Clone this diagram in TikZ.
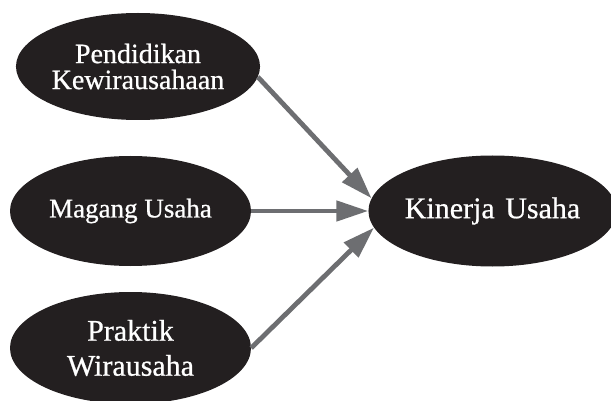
\documentclass[tikz,border=0pt]{standalone}
\usepackage{fontspec}
\setmainfont{Liberation Serif}[FakeBold=0.7]
\usepackage{tikz}
\usetikzlibrary{arrows.meta, shapes.geometric}

\definecolor{ovalblack}{HTML}{231F20}
\definecolor{arrowgray}{HTML}{6D6E71}

\tikzset{
  oval/.style={ellipse, fill=ovalblack, text=white, inner sep=0pt, align=center},
  link/.style={draw=arrowgray, line width=4.8pt, -{Triangle[length=32pt, width=20pt]}}
}

\begin{document}
\begin{tikzpicture}[x=1pt, y=-1pt]
  \useasboundingbox (0,0) rectangle (611,401);

  \node[oval, minimum width=242pt, minimum height=107pt,
        font=\fontsize{28}{26}\selectfont] (PK) at (138,66.5) {Pendidikan\\Kewirausahaan};
  \node[oval, minimum width=241pt, minimum height=110pt,
        font=\fontsize{27}{30}\selectfont] (MU) at (130.5,211) {Magang Usaha};
  \node[oval, minimum width=241pt, minimum height=112pt,
        font=\fontsize{30}{35}\selectfont] (PW) at (130.5,348) {Praktik\\Wirausaha};
  \node[oval, minimum width=236pt, minimum height=111pt,
        font=\fontsize{30}{32}\selectfont] (KU) at (492.5,211) {Kinerja\hspace{0.1em} Usaha};

  \draw[link] (PK.-5) to (KU.174);
  \draw[link] (MU.east) to (KU.west);
  \draw[link] (PW.east) to (KU.188);
\end{tikzpicture}
\end{document}
